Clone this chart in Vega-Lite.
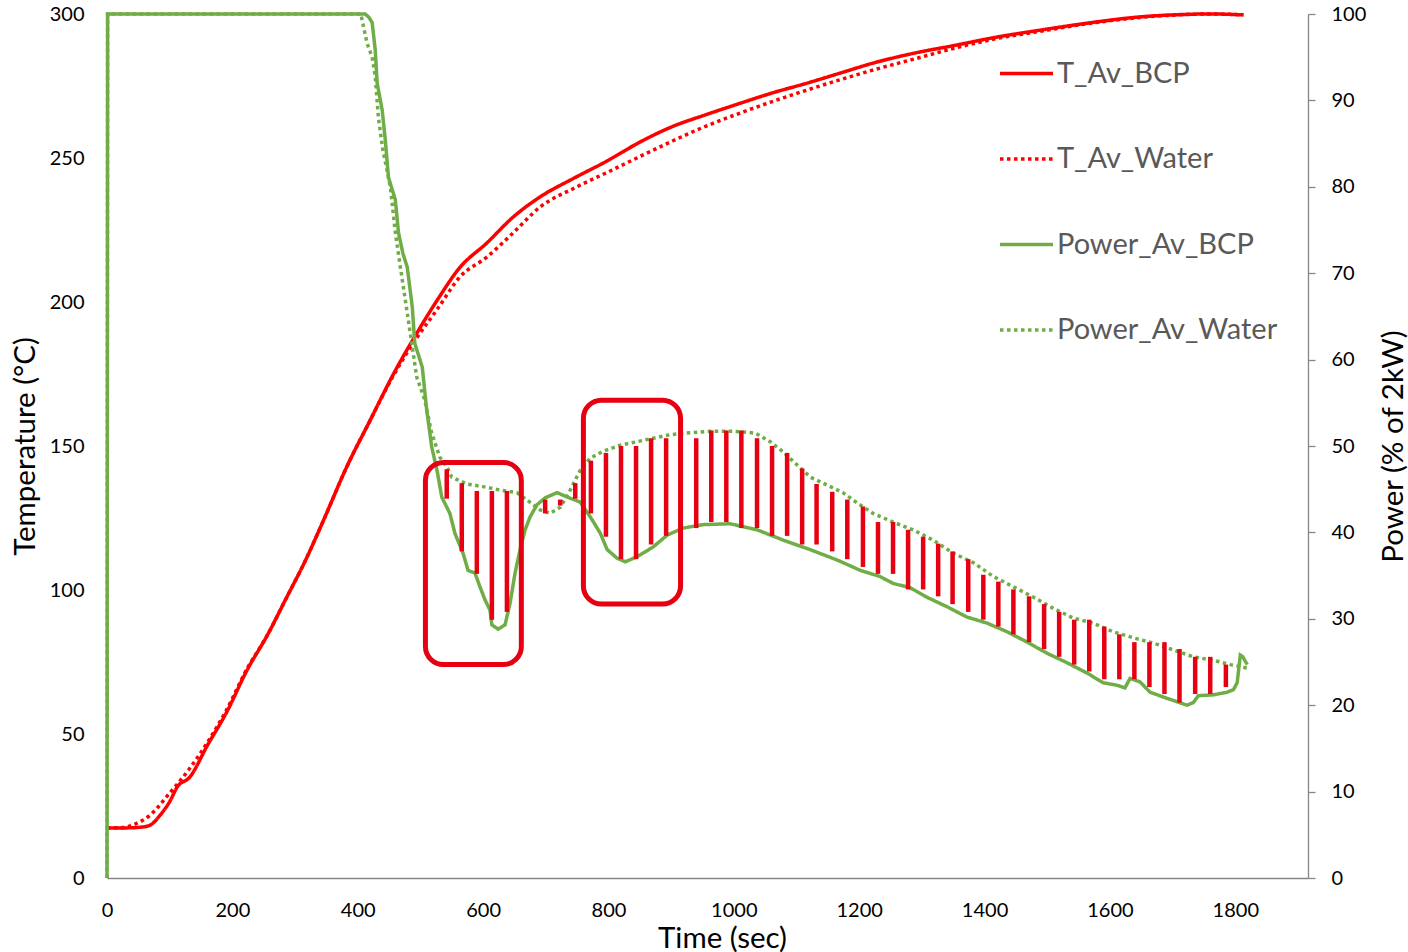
{
  "$schema": "https://vega.github.io/schema/vega-lite/v6.json",
  "width": 1201,
  "height": 864,
  "autosize": {"type": "none"},
  "padding": {"left": 107, "top": 14, "right": 100, "bottom": 74},
  "background": "white",
  "config": {
    "view": {"stroke": null},
    "font": "Lato",
    "axis": {"labelFont": "Lato", "titleFont": "Lato", "grid": false, "labelColor": "#000000", "titleColor": "#000000", "titleFontWeight": "normal", "domainColor": "#868686", "domainWidth": 1.3, "labelFontSize": 20, "titleFontSize": 29.5, "format": "d", "labelFlush": false}
  },
  "datasets": {
    "temp": [
      {"series": "T_Av_BCP", "t": 0, "v": 17.4}, {"series": "T_Av_BCP", "t": 30, "v": 17.4}, {"series": "T_Av_BCP", "t": 57, "v": 17.7}, {"series": "T_Av_BCP", "t": 70, "v": 18.5}, {"series": "T_Av_BCP", "t": 85, "v": 21.9}, {"series": "T_Av_BCP", "t": 100, "v": 26.5}, {"series": "T_Av_BCP", "t": 112, "v": 31.6}, {"series": "T_Av_BCP", "t": 132, "v": 35}, {"series": "T_Av_BCP", "t": 160, "v": 46}, {"series": "T_Av_BCP", "t": 191, "v": 57.6}, {"series": "T_Av_BCP", "t": 223, "v": 72}, {"series": "T_Av_BCP", "t": 255, "v": 84}, {"series": "T_Av_BCP", "t": 287, "v": 97.6}, {"series": "T_Av_BCP", "t": 316, "v": 110}, {"series": "T_Av_BCP", "t": 345, "v": 124}, {"series": "T_Av_BCP", "t": 383, "v": 143}, {"series": "T_Av_BCP", "t": 420, "v": 159}, {"series": "T_Av_BCP", "t": 457, "v": 175}, {"series": "T_Av_BCP", "t": 491, "v": 188}, {"series": "T_Av_BCP", "t": 527, "v": 200.7}, {"series": "T_Av_BCP", "t": 563, "v": 212}, {"series": "T_Av_BCP", "t": 606, "v": 220.5}, {"series": "T_Av_BCP", "t": 648, "v": 229.5}, {"series": "T_Av_BCP", "t": 691, "v": 236.5}, {"series": "T_Av_BCP", "t": 745, "v": 243}, {"series": "T_Av_BCP", "t": 798, "v": 249}, {"series": "T_Av_BCP", "t": 850, "v": 255.5}, {"series": "T_Av_BCP", "t": 903, "v": 261}, {"series": "T_Av_BCP", "t": 955, "v": 265}, {"series": "T_Av_BCP", "t": 1010, "v": 269}, {"series": "T_Av_BCP", "t": 1060, "v": 272.5}, {"series": "T_Av_BCP", "t": 1117, "v": 276}, {"series": "T_Av_BCP", "t": 1170, "v": 279.5}, {"series": "T_Av_BCP", "t": 1223, "v": 283}, {"series": "T_Av_BCP", "t": 1290, "v": 286.5}, {"series": "T_Av_BCP", "t": 1350, "v": 289}, {"series": "T_Av_BCP", "t": 1420, "v": 292}, {"series": "T_Av_BCP", "t": 1489, "v": 294.4}, {"series": "T_Av_BCP", "t": 1570, "v": 297}, {"series": "T_Av_BCP", "t": 1648, "v": 299}, {"series": "T_Av_BCP", "t": 1701, "v": 299.7}, {"series": "T_Av_BCP", "t": 1760, "v": 300}, {"series": "T_Av_BCP", "t": 1813, "v": 299.7},
      {"series": "T_Av_Water", "t": 0, "v": 17.4}, {"series": "T_Av_Water", "t": 25, "v": 17.5}, {"series": "T_Av_Water", "t": 41, "v": 18.4}, {"series": "T_Av_Water", "t": 69, "v": 21.9}, {"series": "T_Av_Water", "t": 100, "v": 29.5}, {"series": "T_Av_Water", "t": 130, "v": 37.5}, {"series": "T_Av_Water", "t": 160, "v": 47}, {"series": "T_Av_Water", "t": 191, "v": 58.5}, {"series": "T_Av_Water", "t": 223, "v": 72.5}, {"series": "T_Av_Water", "t": 255, "v": 84}, {"series": "T_Av_Water", "t": 287, "v": 97.6}, {"series": "T_Av_Water", "t": 316, "v": 110}, {"series": "T_Av_Water", "t": 345, "v": 124}, {"series": "T_Av_Water", "t": 383, "v": 143}, {"series": "T_Av_Water", "t": 420, "v": 159}, {"series": "T_Av_Water", "t": 457, "v": 174.5}, {"series": "T_Av_Water", "t": 491, "v": 186.5}, {"series": "T_Av_Water", "t": 527, "v": 197.5}, {"series": "T_Av_Water", "t": 563, "v": 208.7}, {"series": "T_Av_Water", "t": 606, "v": 215.6}, {"series": "T_Av_Water", "t": 648, "v": 224}, {"series": "T_Av_Water", "t": 691, "v": 233}, {"series": "T_Av_Water", "t": 745, "v": 239.5}, {"series": "T_Av_Water", "t": 798, "v": 245}, {"series": "T_Av_Water", "t": 850, "v": 250.5}, {"series": "T_Av_Water", "t": 903, "v": 256}, {"series": "T_Av_Water", "t": 955, "v": 261}, {"series": "T_Av_Water", "t": 1010, "v": 265.6}, {"series": "T_Av_Water", "t": 1060, "v": 269.5}, {"series": "T_Av_Water", "t": 1117, "v": 273.6}, {"series": "T_Av_Water", "t": 1170, "v": 277.2}, {"series": "T_Av_Water", "t": 1223, "v": 280.6}, {"series": "T_Av_Water", "t": 1290, "v": 284.5}, {"series": "T_Av_Water", "t": 1350, "v": 288}, {"series": "T_Av_Water", "t": 1420, "v": 291.5}, {"series": "T_Av_Water", "t": 1489, "v": 294}, {"series": "T_Av_Water", "t": 1570, "v": 296.8}, {"series": "T_Av_Water", "t": 1648, "v": 298.8}, {"series": "T_Av_Water", "t": 1701, "v": 299.6}, {"series": "T_Av_Water", "t": 1760, "v": 300}, {"series": "T_Av_Water", "t": 1813, "v": 299.7}
    ],
    "power": [
      {"series": "Power_Av_BCP", "t": 0, "v": 0}, {"series": "Power_Av_BCP", "t": 1, "v": 100}, {"series": "Power_Av_BCP", "t": 412, "v": 100}, {"series": "Power_Av_BCP", "t": 418, "v": 99.6}, {"series": "Power_Av_BCP", "t": 423, "v": 99}, {"series": "Power_Av_BCP", "t": 428, "v": 95.8}, {"series": "Power_Av_BCP", "t": 431, "v": 92}, {"series": "Power_Av_BCP", "t": 439, "v": 88.9}, {"series": "Power_Av_BCP", "t": 444, "v": 85.4}, {"series": "Power_Av_BCP", "t": 449, "v": 81.1}, {"series": "Power_Av_BCP", "t": 460, "v": 78.5}, {"series": "Power_Av_BCP", "t": 465, "v": 74.7}, {"series": "Power_Av_BCP", "t": 472, "v": 72.3}, {"series": "Power_Av_BCP", "t": 479, "v": 70.7}, {"series": "Power_Av_BCP", "t": 487, "v": 66.1}, {"series": "Power_Av_BCP", "t": 491, "v": 61.9}, {"series": "Power_Av_BCP", "t": 503, "v": 59.1}, {"series": "Power_Av_BCP", "t": 510, "v": 54.2}, {"series": "Power_Av_BCP", "t": 518, "v": 49.9}, {"series": "Power_Av_BCP", "t": 527, "v": 47}, {"series": "Power_Av_BCP", "t": 534, "v": 44.1}, {"series": "Power_Av_BCP", "t": 547, "v": 42.2}, {"series": "Power_Av_BCP", "t": 555, "v": 39.9}, {"series": "Power_Av_BCP", "t": 568, "v": 37.6}, {"series": "Power_Av_BCP", "t": 576, "v": 35.6}, {"series": "Power_Av_BCP", "t": 587, "v": 35.3}, {"series": "Power_Av_BCP", "t": 595, "v": 33.7}, {"series": "Power_Av_BCP", "t": 603, "v": 32.2}, {"series": "Power_Av_BCP", "t": 611, "v": 31}, {"series": "Power_Av_BCP", "t": 614, "v": 29.3}, {"series": "Power_Av_BCP", "t": 624, "v": 28.8}, {"series": "Power_Av_BCP", "t": 635, "v": 29.3}, {"series": "Power_Av_BCP", "t": 643, "v": 31.8}, {"series": "Power_Av_BCP", "t": 651, "v": 35.3}, {"series": "Power_Av_BCP", "t": 659, "v": 38}, {"series": "Power_Av_BCP", "t": 667, "v": 40.3}, {"series": "Power_Av_BCP", "t": 675, "v": 41.8}, {"series": "Power_Av_BCP", "t": 686, "v": 43.2}, {"series": "Power_Av_BCP", "t": 699, "v": 44}, {"series": "Power_Av_BCP", "t": 718, "v": 44.6}, {"series": "Power_Av_BCP", "t": 734, "v": 44.1}, {"series": "Power_Av_BCP", "t": 755, "v": 43.5}, {"series": "Power_Av_BCP", "t": 771, "v": 41.8}, {"series": "Power_Av_BCP", "t": 787, "v": 39.9}, {"series": "Power_Av_BCP", "t": 798, "v": 38}, {"series": "Power_Av_BCP", "t": 814, "v": 37}, {"series": "Power_Av_BCP", "t": 827, "v": 36.6}, {"series": "Power_Av_BCP", "t": 846, "v": 37.2}, {"series": "Power_Av_BCP", "t": 871, "v": 38.3}, {"series": "Power_Av_BCP", "t": 894, "v": 39.7}, {"series": "Power_Av_BCP", "t": 919, "v": 40.5}, {"series": "Power_Av_BCP", "t": 951, "v": 40.9}, {"series": "Power_Av_BCP", "t": 994, "v": 41}, {"series": "Power_Av_BCP", "t": 1037, "v": 40.3}, {"series": "Power_Av_BCP", "t": 1079, "v": 39.1}, {"series": "Power_Av_BCP", "t": 1122, "v": 38}, {"series": "Power_Av_BCP", "t": 1165, "v": 36.8}, {"series": "Power_Av_BCP", "t": 1202, "v": 35.6}, {"series": "Power_Av_BCP", "t": 1233, "v": 34.9}, {"series": "Power_Av_BCP", "t": 1254, "v": 34.1}, {"series": "Power_Av_BCP", "t": 1281, "v": 33.6}, {"series": "Power_Av_BCP", "t": 1308, "v": 32.5}, {"series": "Power_Av_BCP", "t": 1340, "v": 31.4}, {"series": "Power_Av_BCP", "t": 1372, "v": 30.2}, {"series": "Power_Av_BCP", "t": 1404, "v": 29.5}, {"series": "Power_Av_BCP", "t": 1436, "v": 28.5}, {"series": "Power_Av_BCP", "t": 1468, "v": 27.3}, {"series": "Power_Av_BCP", "t": 1500, "v": 26}, {"series": "Power_Av_BCP", "t": 1532, "v": 24.9}, {"series": "Power_Av_BCP", "t": 1564, "v": 23.7}, {"series": "Power_Av_BCP", "t": 1589, "v": 22.6}, {"series": "Power_Av_BCP", "t": 1612, "v": 22.3}, {"series": "Power_Av_BCP", "t": 1624, "v": 22}, {"series": "Power_Av_BCP", "t": 1632, "v": 23.1}, {"series": "Power_Av_BCP", "t": 1648, "v": 22.7}, {"series": "Power_Av_BCP", "t": 1664, "v": 21.5}, {"series": "Power_Av_BCP", "t": 1691, "v": 20.8}, {"series": "Power_Av_BCP", "t": 1723, "v": 20}, {"series": "Power_Av_BCP", "t": 1733, "v": 20.3}, {"series": "Power_Av_BCP", "t": 1741, "v": 21.1}, {"series": "Power_Av_BCP", "t": 1765, "v": 21.2}, {"series": "Power_Av_BCP", "t": 1787, "v": 21.5}, {"series": "Power_Av_BCP", "t": 1797, "v": 21.8}, {"series": "Power_Av_BCP", "t": 1803, "v": 22.6}, {"series": "Power_Av_BCP", "t": 1808, "v": 25.8}, {"series": "Power_Av_BCP", "t": 1812, "v": 25.6}, {"series": "Power_Av_BCP", "t": 1819, "v": 24.7},
      {"series": "Power_Av_Water", "t": 0, "v": 0}, {"series": "Power_Av_Water", "t": 1, "v": 100}, {"series": "Power_Av_Water", "t": 405, "v": 100}, {"series": "Power_Av_Water", "t": 407, "v": 99.3}, {"series": "Power_Av_Water", "t": 415, "v": 96.6}, {"series": "Power_Av_Water", "t": 423, "v": 95}, {"series": "Power_Av_Water", "t": 428, "v": 92.7}, {"series": "Power_Av_Water", "t": 433, "v": 88}, {"series": "Power_Av_Water", "t": 440, "v": 84.3}, {"series": "Power_Av_Water", "t": 452, "v": 80}, {"series": "Power_Av_Water", "t": 460, "v": 74.7}, {"series": "Power_Av_Water", "t": 468, "v": 70.7}, {"series": "Power_Av_Water", "t": 479, "v": 65.4}, {"series": "Power_Av_Water", "t": 487, "v": 61.5}, {"series": "Power_Av_Water", "t": 494, "v": 58}, {"series": "Power_Av_Water", "t": 507, "v": 55.3}, {"series": "Power_Av_Water", "t": 518, "v": 51.5}, {"series": "Power_Av_Water", "t": 531, "v": 48.7}, {"series": "Power_Av_Water", "t": 542, "v": 47.6}, {"series": "Power_Av_Water", "t": 550, "v": 46.4}, {"series": "Power_Av_Water", "t": 574, "v": 45.6}, {"series": "Power_Av_Water", "t": 600, "v": 45.3}, {"series": "Power_Av_Water", "t": 627, "v": 44.9}, {"series": "Power_Av_Water", "t": 654, "v": 44.6}, {"series": "Power_Av_Water", "t": 670, "v": 43.75}, {"series": "Power_Av_Water", "t": 691, "v": 42.6}, {"series": "Power_Av_Water", "t": 707, "v": 42.2}, {"series": "Power_Av_Water", "t": 723, "v": 42.9}, {"series": "Power_Av_Water", "t": 739, "v": 44.9}, {"series": "Power_Av_Water", "t": 755, "v": 47.2}, {"series": "Power_Av_Water", "t": 771, "v": 48.6}, {"series": "Power_Av_Water", "t": 792, "v": 49.4}, {"series": "Power_Av_Water", "t": 819, "v": 50.1}, {"series": "Power_Av_Water", "t": 846, "v": 50.5}, {"series": "Power_Av_Water", "t": 871, "v": 50.9}, {"series": "Power_Av_Water", "t": 898, "v": 51.3}, {"series": "Power_Av_Water", "t": 925, "v": 51.5}, {"series": "Power_Av_Water", "t": 962, "v": 51.7}, {"series": "Power_Av_Water", "t": 999, "v": 51.7}, {"series": "Power_Av_Water", "t": 1034, "v": 51.5}, {"series": "Power_Av_Water", "t": 1058, "v": 50.5}, {"series": "Power_Av_Water", "t": 1079, "v": 49.3}, {"series": "Power_Av_Water", "t": 1101, "v": 47.8}, {"series": "Power_Av_Water", "t": 1122, "v": 46.4}, {"series": "Power_Av_Water", "t": 1154, "v": 45.3}, {"series": "Power_Av_Water", "t": 1174, "v": 44.6}, {"series": "Power_Av_Water", "t": 1197, "v": 43.4}, {"series": "Power_Av_Water", "t": 1222, "v": 42.2}, {"series": "Power_Av_Water", "t": 1254, "v": 41.2}, {"series": "Power_Av_Water", "t": 1286, "v": 40.3}, {"series": "Power_Av_Water", "t": 1318, "v": 39.1}, {"series": "Power_Av_Water", "t": 1350, "v": 37.6}, {"series": "Power_Av_Water", "t": 1382, "v": 36.5}, {"series": "Power_Av_Water", "t": 1414, "v": 34.9}, {"series": "Power_Av_Water", "t": 1446, "v": 33.7}, {"series": "Power_Av_Water", "t": 1478, "v": 32.5}, {"series": "Power_Av_Water", "t": 1510, "v": 31.2}, {"series": "Power_Av_Water", "t": 1541, "v": 30.1}, {"series": "Power_Av_Water", "t": 1573, "v": 29.5}, {"series": "Power_Av_Water", "t": 1605, "v": 28.5}, {"series": "Power_Av_Water", "t": 1637, "v": 27.8}, {"series": "Power_Av_Water", "t": 1669, "v": 27.2}, {"series": "Power_Av_Water", "t": 1701, "v": 26.4}, {"series": "Power_Av_Water", "t": 1733, "v": 25.6}, {"series": "Power_Av_Water", "t": 1765, "v": 25.2}, {"series": "Power_Av_Water", "t": 1792, "v": 24.7}, {"series": "Power_Av_Water", "t": 1819, "v": 24.3}
    ],
    "bars": [
      {"t": 542, "top": 47.3, "bottom": 43.9}, {"t": 566, "top": 45.7, "bottom": 37.8}, {"t": 590, "top": 44.8, "bottom": 35.2}, {"t": 614, "top": 44.8, "bottom": 29.9}, {"t": 638, "top": 44.8, "bottom": 30.8},
      {"t": 699, "top": 43.8, "bottom": 42.2}, {"t": 723, "top": 43.8, "bottom": 43.1}, {"t": 747, "top": 45.7, "bottom": 43.9}, {"t": 772, "top": 48.3, "bottom": 42.2}, {"t": 796, "top": 49.2, "bottom": 39.5}, {"t": 820, "top": 50, "bottom": 36.9}, {"t": 844, "top": 50, "bottom": 36.9}, {"t": 868, "top": 50.9, "bottom": 38.6}, {"t": 892, "top": 50.9, "bottom": 39.6},
      {"t": 940, "top": 50.9, "bottom": 40.5}, {"t": 964, "top": 51.8, "bottom": 41.2}, {"t": 988, "top": 51.8, "bottom": 41.2}, {"t": 1012, "top": 51.8, "bottom": 40.5}, {"t": 1037, "top": 50.9, "bottom": 40.5}, {"t": 1061, "top": 50, "bottom": 39.6}, {"t": 1085, "top": 49.2, "bottom": 39.6}, {"t": 1109, "top": 47.4, "bottom": 38.6}, {"t": 1132, "top": 45.6, "bottom": 38.6}, {"t": 1157, "top": 44.7, "bottom": 37.8}, {"t": 1181, "top": 43.8, "bottom": 36.9},
      {"t": 1206, "top": 43, "bottom": 36}, {"t": 1230, "top": 41.2, "bottom": 35.2}, {"t": 1254, "top": 41.2, "bottom": 35.2}, {"t": 1278, "top": 40.3, "bottom": 33.4}, {"t": 1302, "top": 39.5, "bottom": 33.4}, {"t": 1326, "top": 38.7, "bottom": 32.6}, {"t": 1349, "top": 37.8, "bottom": 31.7}, {"t": 1374, "top": 36.9, "bottom": 30.8}, {"t": 1398, "top": 35.1, "bottom": 29.9}, {"t": 1422, "top": 34.3, "bottom": 29.1}, {"t": 1446, "top": 33.4, "bottom": 28.2}, {"t": 1471, "top": 32.6, "bottom": 27.3}, {"t": 1495, "top": 31.7, "bottom": 26.5}, {"t": 1519, "top": 30.8, "bottom": 25.6}, {"t": 1543, "top": 29.9, "bottom": 24.7}, {"t": 1567, "top": 29.9, "bottom": 23.9}, {"t": 1591, "top": 29.1, "bottom": 23}, {"t": 1615, "top": 28.2, "bottom": 23}, {"t": 1639, "top": 27.3, "bottom": 23}, {"t": 1663, "top": 27.3, "bottom": 22.1}, {"t": 1687, "top": 27.3, "bottom": 21.3}, {"t": 1711, "top": 26.5, "bottom": 20.3}, {"t": 1736, "top": 25.6, "bottom": 21.3}, {"t": 1760, "top": 25.6, "bottom": 21.3}, {"t": 1785, "top": 24.7, "bottom": 22.1}
    ],
    "boxes": [
      {"t1": 508, "t2": 661, "p1": 48.1, "p2": 24.7},
      {"t1": 760, "t2": 915, "p1": 55.3, "p2": 31.7}
    ]
  },
  "layer": [
    {
      "layer": [
        {
          "data": {"name": "temp"},
          "mark": {"type": "line", "strokeWidth": 3.5, "interpolate": "monotone"},
          "encoding": {
            "x": {"field": "t", "type": "quantitative", "scale": {"domain": [0, 1916], "nice": false, "zero": false}, "axis": {"values": [0, 200, 400, 600, 800, 1000, 1200, 1400, 1600, 1800], "format": "d", "labelFlush": false, "title": "Time (sec)", "ticks": false, "tickSize": 0, "labelPadding": 22, "titleX": 615, "titleY": 60, "titleBaseline": "middle", "titleAlign": "center"}},
            "y": {"field": "v", "type": "quantitative", "scale": {"domain": [0, 300], "nice": false}, "axis": {"orient": "left", "values": [0, 50, 100, 150, 200, 250, 300], "format": "d", "title": "Temperature (°C)", "ticks": false, "tickSize": 0, "labelPadding": 23, "titleX": -82, "titleY": 432, "titleAngle": 270, "titleBaseline": "middle", "titleAlign": "center"}},
            "color": {"field": "series", "type": "nominal", "scale": {"domain": ["T_Av_BCP", "T_Av_Water", "Power_Av_BCP", "Power_Av_Water"], "range": ["#FF0000", "#FF0000", "#70AD47", "#70AD47"]}, "legend": {"orient": "none", "legendX": 891, "legendY": 31, "title": null, "symbolType": "stroke", "symbolSize": 2809, "symbolStrokeWidth": 3.5, "labelFontSize": 29, "labelColor": "#595959", "labelFont": "Lato", "labelLimit": 500, "rowPadding": 41.5, "labelOffset": 2}},
            "strokeDash": {"field": "series", "type": "nominal", "scale": {"domain": ["T_Av_BCP", "T_Av_Water", "Power_Av_BCP", "Power_Av_Water"], "range": [[1, 0], [3.5, 3.5], [1, 0], [3.5, 3.5]]}, "legend": {"orient": "none", "legendX": 891, "legendY": 31, "title": null, "symbolType": "stroke", "symbolSize": 2809, "symbolStrokeWidth": 3.5, "labelFontSize": 29, "labelColor": "#595959", "labelFont": "Lato", "labelLimit": 500, "rowPadding": 41.5, "labelOffset": 2}}
          }
        }
      ]
    },
    {
      "layer": [
        {
          "data": {"name": "power"},
          "mark": {"type": "line", "strokeWidth": 3.5, "interpolate": "linear"},
          "encoding": {
            "x": {"field": "t", "type": "quantitative", "scale": {"domain": [0, 1916], "nice": false, "zero": false}},
            "y": {"field": "v", "type": "quantitative", "scale": {"domain": [0, 100], "nice": false}, "axis": {"orient": "right", "values": [0, 10, 20, 30, 40, 50, 60, 70, 80, 90, 100], "format": "d", "title": "Power (% of 2kW)", "ticks": true, "tickSize": 7, "tickColor": "#868686", "tickWidth": 1.3, "labelPadding": 16, "titleX": 85, "titleY": 432, "titleAngle": 270, "titleBaseline": "middle", "titleAlign": "center"}},
            "color": {"field": "series", "type": "nominal", "scale": {"domain": ["T_Av_BCP", "T_Av_Water", "Power_Av_BCP", "Power_Av_Water"], "range": ["#FF0000", "#FF0000", "#70AD47", "#70AD47"]}},
            "strokeDash": {"field": "series", "type": "nominal", "scale": {"domain": ["T_Av_BCP", "T_Av_Water", "Power_Av_BCP", "Power_Av_Water"], "range": [[1, 0], [3.5, 3.5], [1, 0], [3.5, 3.5]]}}
          }
        },
        {
          "data": {"name": "bars"},
          "mark": {"type": "rule", "color": "#E60012", "strokeWidth": 4.5},
          "encoding": {
            "x": {"field": "t", "type": "quantitative", "scale": {"domain": [0, 1916], "nice": false, "zero": false}},
            "y": {"field": "top", "type": "quantitative"},
            "y2": {"field": "bottom"}
          }
        },
        {
          "data": {"name": "boxes"},
          "mark": {"type": "rect", "filled": false, "stroke": "#E60012", "strokeWidth": 5, "cornerRadius": 18},
          "encoding": {
            "x": {"field": "t1", "type": "quantitative", "scale": {"domain": [0, 1916], "nice": false, "zero": false}},
            "x2": {"field": "t2"},
            "y": {"field": "p1", "type": "quantitative"},
            "y2": {"field": "p2"}
          }
        }
      ]
    }
  ],
  "resolve": {"scale": {"y": "independent"}}
}
